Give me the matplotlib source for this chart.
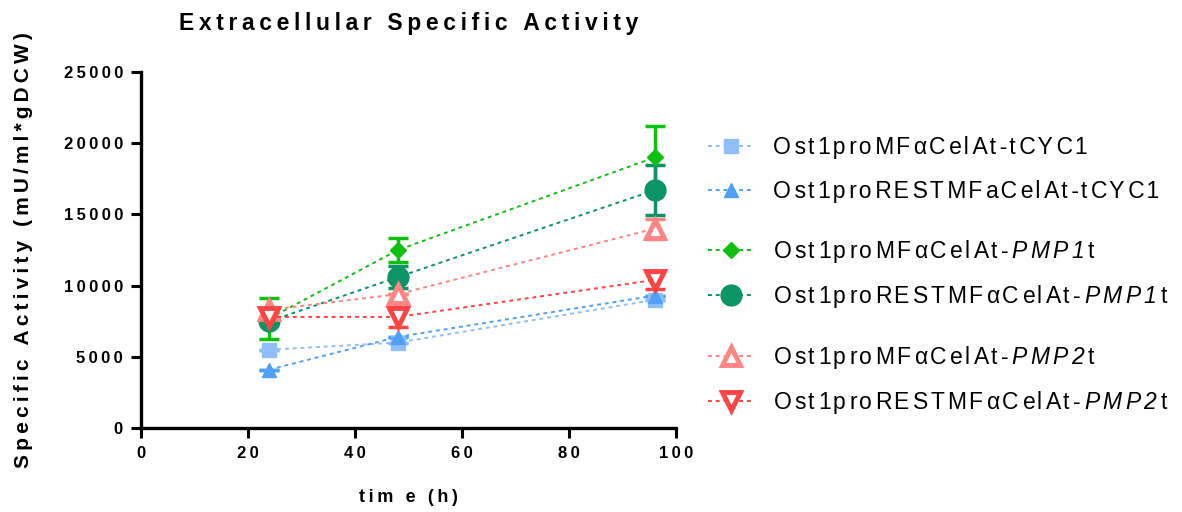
import matplotlib
matplotlib.use("Agg")
import matplotlib.pyplot as plt
from matplotlib.lines import Line2D

plt.rcParams['font.family'] = ['Liberation Sans', 'DejaVu Sans']
plt.rcParams['mathtext.fontset'] = 'custom'
plt.rcParams['mathtext.rm'] = 'Liberation Sans'
plt.rcParams['mathtext.it'] = 'Liberation Sans:italic'
plt.rcParams['mathtext.sf'] = 'Liberation Sans:italic'

# Data
time_h = [24, 48, 96]
labels = [
    ("Ost1proMF\u03b1CelAt-tCYC1", None),
    ("Ost1proRESTMFaCelAt-tCYC1", None),
    ("Ost1proMF\u03b1CelAt-", "PMP1"),
    ("Ost1proRESTMF\u03b1CelAt-", "PMP1"),
    ("Ost1proMF\u03b1CelAt-", "PMP2"),
    ("Ost1proRESTMF\u03b1CelAt-", "PMP2"),
]
mfa_tcyc1 = [5500, 6000, 9000]
rest_tcyc1 = [4100, 6400, 9300]
mfa_pmp1 = [7700, 12500, 19000]
rest_pmp1 = [7500, 10600, 16700]
mfa_pmp2 = [8300, 9400, 14000]
rest_pmp2 = [7800, 7800, 10400]

mfa_tcyc1_err = [0, 0, 0]
rest_tcyc1_err = [0, 0, 0]
mfa_pmp1_err = [1450, 850, 2200]
rest_pmp1_err = [0, 750, 1750]
mfa_pmp2_err = [0, 0, 700]
rest_pmp2_err = [0, 700, 650]

series = [mfa_tcyc1, rest_tcyc1, mfa_pmp1, rest_pmp1, mfa_pmp2, rest_pmp2]
errors = [mfa_tcyc1_err, rest_tcyc1_err, mfa_pmp1_err, rest_pmp1_err,
          mfa_pmp2_err, rest_pmp2_err]
colors = ["#90BFF7", "#50A0F8", "#10C010", "#0C9464", "#FF8484", "#FF4444"]
markers = ["s", "^", "D", "o", "^", "v"]
msizes = [10, 10, 8, 15, 13, 13]
faces = [None, None, None, None, "white", "white"]

xticks = [0, 20, 40, 60, 80, 100]
yticks = [0, 5000, 10000, 15000, 20000, 25000]

THIN = "\u2009"
HAIR = "\u200a"


def spaced(s, sep=THIN):
    return sep.join(s)


def loose(s):
    # letter-spacing of about one and a half hair spaces per gap
    out = s[0]
    for i, ch in enumerate(s[1:]):
        out += (HAIR * 2 if i % 2 == 0 else HAIR) + ch
    return out


def legend_label(plain, italic):
    txt = loose(plain)
    if italic:
        txt += HAIR * 2 + r"$\mathsf{" + r"\,".join(italic) + r"}$" + HAIR * 2 + "t"
    return txt


fig = plt.figure(figsize=(11.82, 5.12), dpi=100)
ax = fig.add_axes([0.1193, 0.164, 0.4526, 0.6953])

handles = []
for ys, err, c, m, ms, fc in zip(series, errors, colors, markers, msizes, faces):
    ax.errorbar(time_h, ys, yerr=err, color=c, ecolor=c, elinewidth=2.5,
                capsize=7, capthick=2.5, fmt="none", zorder=2)
    kw = dict(color=c, marker=m, markersize=ms, linestyle=(0, (2, 2)),
              linewidth=1.4, markeredgecolor=c, zorder=3)
    if fc:
        kw.update(markerfacecolor=fc, markeredgewidth=3.5)
    else:
        kw.update(markerfacecolor=c)
    ax.plot(time_h, ys, **kw)
    h = Line2D([], [], **{k: v for k, v in kw.items() if k != "zorder"})
    handles.append(h)

ax.set_xlim(0, 100)
ax.set_ylim(0, 25000)
ax.set_xticks(xticks)
ax.set_yticks(yticks)
ax.set_xticklabels([spaced(str(t)) for t in xticks], fontsize=12, fontweight="bold")
ax.set_yticklabels([spaced(str(t)) for t in yticks], fontsize=12, fontweight="bold")
for s in ["top", "right"]:
    ax.spines[s].set_visible(False)
for s in ["left", "bottom"]:
    ax.spines[s].set_linewidth(2.4)
ax.tick_params(width=2.2, length=7, direction="out", pad=6)

ax.set_title(spaced("Extracellular Specific Activity"), fontsize=16.5,
             fontweight="bold", pad=30)
ax.set_xlabel(spaced("tim e (h)"), fontsize=13, fontweight="bold", labelpad=20)
ax.set_ylabel(spaced("Specific Activity (mU/ml*gDCW)"), fontsize=15,
              fontweight="bold", labelpad=22)

# Legend in three groups of two
group_tops = [0.753, 0.553, 0.346]
group_spacing = [0.95, 0.78, 0.78]
for gi, (top, lsp) in enumerate(zip(group_tops, group_spacing)):
    idx = [2 * gi, 2 * gi + 1]
    fig.legend([handles[i] for i in idx],
               [legend_label(*labels[i]) for i in idx],
               loc="upper left", bbox_to_anchor=(0.591, top),
               frameon=False, fontsize=16.5, handlelength=2.0,
               handletextpad=0.85, labelspacing=lsp, borderaxespad=0)

fig.savefig("out.png", dpi=100)
